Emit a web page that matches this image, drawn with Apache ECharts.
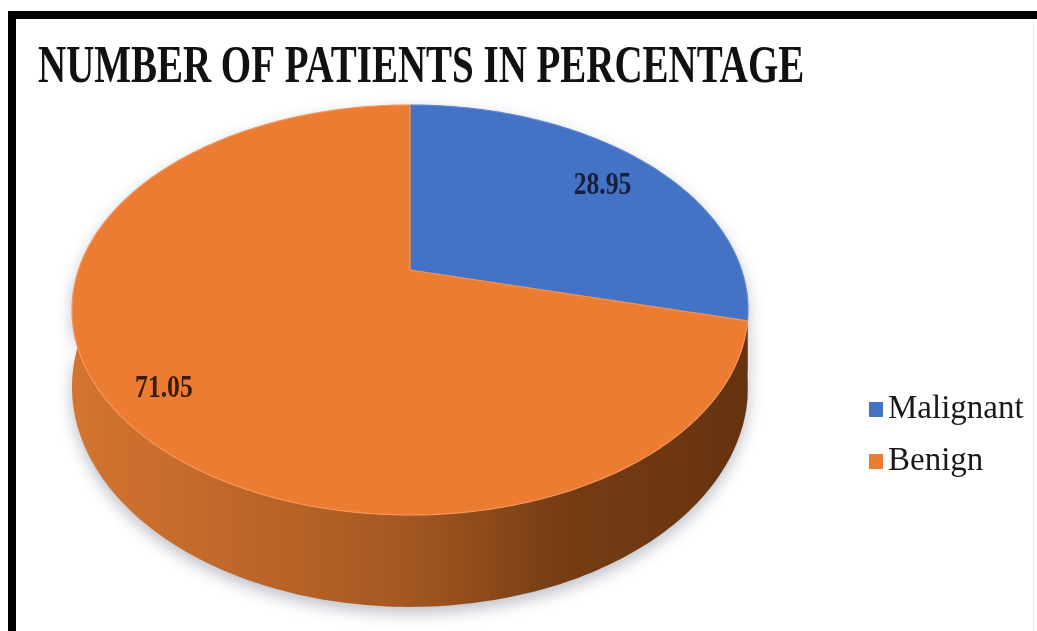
<!DOCTYPE html>
<html>
<head>
<meta charset="utf-8">
<script src="https://cdn.jsdelivr.net/npm/echarts@6/dist/echarts.min.js"></script>
<style>
  html, body { margin: 0; padding: 0; background: #ffffff; }
  #chart { width: 1037px; height: 631px; }
</style>
</head>
<body>
<div id="chart"></div>
<script>
// Chart content
const titleText = 'NUMBER OF PATIENTS IN PERCENTAGE';
const categories = ['Malignant', 'Benign'];
const percentages = [28.95, 71.05];

// Palette (top face, rim highlight, side wall light end, side wall dark end, label ink)
const palette = [
  { top: '#4472c4', rim: '#5f88d2', sideLight: '#3e68b4', sideDark: '#243f75', ink: '#14203c' },
  { top: '#ec7c31', rim: '#f4955a', sideLight: '#d47430', sideDark: '#66330f', ink: '#3a1b07' }
];

// Perspective disc: apex position, horizontal/vertical radius scale,
// perspective strength, wall thickness and label placement
const disc = { cx: 410, cy: 270, a: 331.5, b: 197.2, k: 0.195, depth: 74, labelR: 0.83, labelDx: -5, labelDy: 7 };

function project(phi, r, dropped) {
  const u = Math.sin(phi) * r;
  const v = Math.cos(phi) * r;
  const w = 1 + disc.k * v;
  return [
    disc.cx + disc.a * u / w,
    disc.cy - disc.b * v / w + (dropped ? disc.depth / w : 0)
  ];
}

const total = percentages.reduce((s, v) => s + v, 0);

function startAngle(index) {
  let acc = 0;
  for (let j = 0; j < index; j++) acc += percentages[j];
  return acc / total * Math.PI * 2;
}

function renderSlice(params, api) {
  const i = params.seriesIndex;
  const value = api.value(0);
  const a0 = startAngle(i);
  const a1 = a0 + value / total * Math.PI * 2;
  const steps = Math.max(8, Math.ceil((a1 - a0) / (Math.PI * 2) * 360));
  const topArc = [], bottomArc = [];
  for (let s = 0; s <= steps; s++) {
    const phi = a0 + (a1 - a0) * s / steps;
    topArc.push(project(phi, 1, false));
    bottomArc.push(project(phi, 1, true));
  }
  const col = palette[i];
  const wallFill = new echarts.graphic.LinearGradient(
    disc.cx - disc.a * 1.02, 0, disc.cx + disc.a * 1.02, 0,
    [
      { offset: 0, color: col.sideLight },
      { offset: 0.3, color: echarts.color.lerp(0.25, [col.sideLight, col.sideDark]) },
      { offset: 0.5, color: echarts.color.lerp(0.45, [col.sideLight, col.sideDark]) },
      { offset: 0.72, color: echarts.color.lerp(0.85, [col.sideLight, col.sideDark]) },
      { offset: 1, color: col.sideDark }
    ],
    true
  );
  const mid = (a0 + a1) / 2;
  const lp = project(mid, disc.labelR, false);
  return {
    type: 'group',
    children: [
      {
        type: 'polygon',
        z2: 1,
        shape: { points: topArc.concat(bottomArc.slice().reverse()) },
        style: {
          fill: wallFill,
          shadowBlur: 16,
          shadowColor: 'rgba(30,40,70,0.3)',
          shadowOffsetY: 6
        }
      },
      {
        type: 'polygon',
        z2: 10,
        shape: { points: [[disc.cx, disc.cy]].concat(topArc) },
        style: { fill: col.top, stroke: col.rim, lineWidth: 1.2, lineJoin: 'round' }
      },
      {
        type: 'text',
        z2: 20,
        x: lp[0] + disc.labelDx,
        y: lp[1] + disc.labelDy,
        scaleX: 0.8,
        style: {
          text: value.toFixed(2),
          fill: col.ink,
          font: 'bold 32px "Liberation Serif", "Times New Roman", serif',
          align: 'center',
          verticalAlign: 'middle'
        }
      }
    ]
  };
}

const chart = echarts.init(document.getElementById('chart'), null, { renderer: 'canvas' });

chart.setOption({
  animation: false,
  backgroundColor: '#ffffff',
  legend: {
    orient: 'vertical',
    left: 864,
    top: 388,
    itemWidth: 14,
    itemHeight: 15,
    itemGap: 19,
    icon: 'rect',
    data: categories,
    textStyle: {
      fontFamily: '"Liberation Serif", "Times New Roman", serif',
      fontSize: 33,
      color: '#1a1a1a'
    }
  },
  graphic: [
    { type: 'rect', shape: { x: 8, y: 11, width: 1029, height: 8 }, style: { fill: '#000' } },
    { type: 'rect', shape: { x: 8, y: 11, width: 8, height: 620 }, style: { fill: '#000' } },
    { type: 'rect', shape: { x: 1033, y: 19, width: 1, height: 612 }, style: { fill: '#ececec' } },
    {
      type: 'text',
      x: 38,
      y: 68,
      scaleX: 0.735,
      style: {
        text: titleText,
        fill: '#111111',
        font: 'bold 53px "Liberation Serif", "Times New Roman", serif',
        align: 'left',
        verticalAlign: 'middle'
      }
    }
  ],
  series: categories.map((name, i) => ({
    type: 'custom',
    name: name,
    coordinateSystem: 'none',
    itemStyle: { color: palette[i].top },
    renderItem: renderSlice,
    data: [[percentages[i]]]
  }))
});
</script>
</body>
</html>
